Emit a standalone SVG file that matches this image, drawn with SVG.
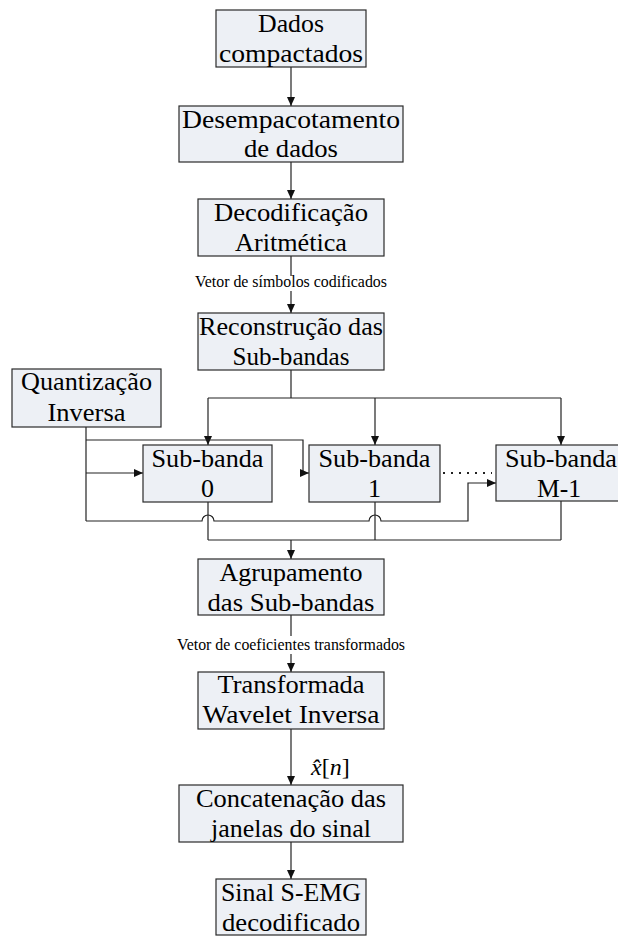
<svg xmlns="http://www.w3.org/2000/svg" width="618" height="938" viewBox="0 0 618 938">
<style>
.box{fill:#edf0f5;stroke:#2a2a2a;stroke-width:1.2}
.t{font-family:"Liberation Serif",Tinos,"Times New Roman",Times,"DejaVu Serif Condensed","DejaVu Serif","Noto Serif",serif;font-size:26px;text-anchor:middle;fill:#000}
.lbl{font-family:"Liberation Serif",Tinos,"Times New Roman",Times,"DejaVu Serif Condensed","DejaVu Serif","Noto Serif",serif;font-size:16px;text-anchor:middle;fill:#000}
.m{font-family:"Liberation Serif",Tinos,"Times New Roman",Times,"DejaVu Serif","Noto Serif",serif;font-size:24px;fill:#000}
.c{fill:none;stroke:#222;stroke-width:1.2}
.ca{fill:none;stroke:#222;stroke-width:1.2;marker-end:url(#ah)}
</style>
<defs>
<marker id="ah" markerWidth="9" markerHeight="8" refX="9" refY="4" orient="auto" markerUnits="userSpaceOnUse">
<path d="M0,0 L9,4 L0,8 z" fill="#111"/>
</marker>
</defs>
<rect width="618" height="938" fill="#fff"/>
<g id="connectors">
<line class="ca" x1="291" y1="67" x2="291" y2="106"/>
<line class="ca" x1="291" y1="162" x2="291" y2="199"/>
<line class="c" x1="291" y1="256" x2="291" y2="276"/>
<line class="ca" x1="291" y1="291" x2="291" y2="313"/>
<line class="c" x1="291" y1="370" x2="291" y2="398"/>
<line class="c" x1="208" y1="398" x2="561" y2="398"/>
<line class="ca" x1="208" y1="398" x2="208" y2="445"/>
<line class="ca" x1="375" y1="398" x2="375" y2="445"/>
<line class="ca" x1="561" y1="398" x2="561" y2="445"/>
<line class="c" x1="86" y1="427" x2="86" y2="521"/>
<path class="ca" d="M86,440 H303 V473 H309"/>
<line class="ca" x1="86" y1="473" x2="143" y2="473"/>
<line x1="443" y1="473" x2="492" y2="473" stroke="#222" stroke-width="2" stroke-dasharray="2 6"/>
<path class="ca" d="M86,521 H202 A6,6 0 0 1 214,521 H369 A6,6 0 0 1 381,521 H468 V483 H496"/>
<line class="c" x1="208" y1="502" x2="208" y2="540"/>
<line class="c" x1="375" y1="502" x2="375" y2="540"/>
<line class="c" x1="561" y1="501" x2="561" y2="540"/>
<line class="c" x1="208" y1="540" x2="561" y2="540"/>
<line class="ca" x1="291" y1="540" x2="291" y2="559"/>
<line class="c" x1="291" y1="615" x2="291" y2="636"/>
<line class="ca" x1="291" y1="654" x2="291" y2="672"/>
<line class="ca" x1="291" y1="729" x2="291" y2="785"/>
<line class="ca" x1="291" y1="842" x2="291" y2="879"/>
<text class="lbl" x="291" y="287" textLength="192" lengthAdjust="spacingAndGlyphs">Vetor de símbolos codificados</text>
<text class="lbl" x="291" y="650" textLength="228" lengthAdjust="spacingAndGlyphs">Vetor de coeficientes transformados</text>
<text class="m" x="311" y="775"><tspan font-style="italic">x̂</tspan>[<tspan font-style="italic">n</tspan>]</text>
</g>
<g id="n1"><rect class="box" x="216" y="10" width="150" height="57"/><text class="t" x="291" y="32" textLength="66" lengthAdjust="spacingAndGlyphs">Dados</text><text class="t" x="291" y="62" textLength="144" lengthAdjust="spacingAndGlyphs">compactados</text></g>
<g id="n2"><rect class="box" x="179" y="106" width="224" height="56"/><text class="t" x="291" y="128" textLength="218" lengthAdjust="spacingAndGlyphs">Desempacotamento</text><text class="t" x="291" y="157" textLength="94" lengthAdjust="spacingAndGlyphs">de dados</text></g>
<g id="n3"><rect class="box" x="198" y="199" width="186" height="57"/><text class="t" x="291" y="221" textLength="154" lengthAdjust="spacingAndGlyphs">Decodificação</text><text class="t" x="291" y="251" textLength="112" lengthAdjust="spacingAndGlyphs">Aritmética</text></g>
<g id="n4"><rect class="box" x="198" y="313" width="186" height="57"/><text class="t" x="291" y="335" textLength="184" lengthAdjust="spacingAndGlyphs">Reconstrução das</text><text class="t" x="291" y="365" textLength="117" lengthAdjust="spacingAndGlyphs">Sub-bandas</text></g>
<g id="n5"><rect class="box" x="12" y="369" width="149" height="58"/><text class="t" x="86.5" y="390" textLength="131" lengthAdjust="spacingAndGlyphs">Quantização</text><text class="t" x="86.5" y="421" textLength="78" lengthAdjust="spacingAndGlyphs">Inversa</text></g>
<g id="n6"><rect class="box" x="143" y="445" width="129" height="57"/><text class="t" x="207.5" y="467" textLength="112" lengthAdjust="spacingAndGlyphs">Sub-banda</text><text class="t" x="207.5" y="497">0</text></g>
<g id="n7"><rect class="box" x="309" y="445" width="131" height="57"/><text class="t" x="374.5" y="467" textLength="112" lengthAdjust="spacingAndGlyphs">Sub-banda</text><text class="t" x="374.5" y="497">1</text></g>
<g id="n8"><rect class="box" x="496" y="445" width="130" height="56"/><text class="t" x="561" y="467" textLength="112" lengthAdjust="spacingAndGlyphs">Sub-banda</text><text class="t" x="559" y="497" textLength="44" lengthAdjust="spacingAndGlyphs">M-1</text></g>
<g id="n9"><rect class="box" x="198" y="559" width="186" height="56"/><text class="t" x="291" y="581" textLength="143" lengthAdjust="spacingAndGlyphs">Agrupamento</text><text class="t" x="291" y="611" textLength="167" lengthAdjust="spacingAndGlyphs">das Sub-bandas</text></g>
<g id="n10"><rect class="box" x="198" y="672" width="186" height="57"/><text class="t" x="291" y="693" textLength="147" lengthAdjust="spacingAndGlyphs">Transformada</text><text class="t" x="291" y="723" textLength="177" lengthAdjust="spacingAndGlyphs">Wavelet Inversa</text></g>
<g id="n11"><rect class="box" x="179" y="785" width="224" height="57"/><text class="t" x="291" y="807" textLength="190" lengthAdjust="spacingAndGlyphs">Concatenação das</text><text class="t" x="291" y="837" textLength="160" lengthAdjust="spacingAndGlyphs">janelas do sinal</text></g>
<g id="n12"><rect class="box" x="216" y="879" width="150" height="56"/><text class="t" x="291" y="901" textLength="140" lengthAdjust="spacingAndGlyphs">Sinal S-EMG</text><text class="t" x="291" y="931" textLength="138" lengthAdjust="spacingAndGlyphs">decodificado</text></g>
</svg>
